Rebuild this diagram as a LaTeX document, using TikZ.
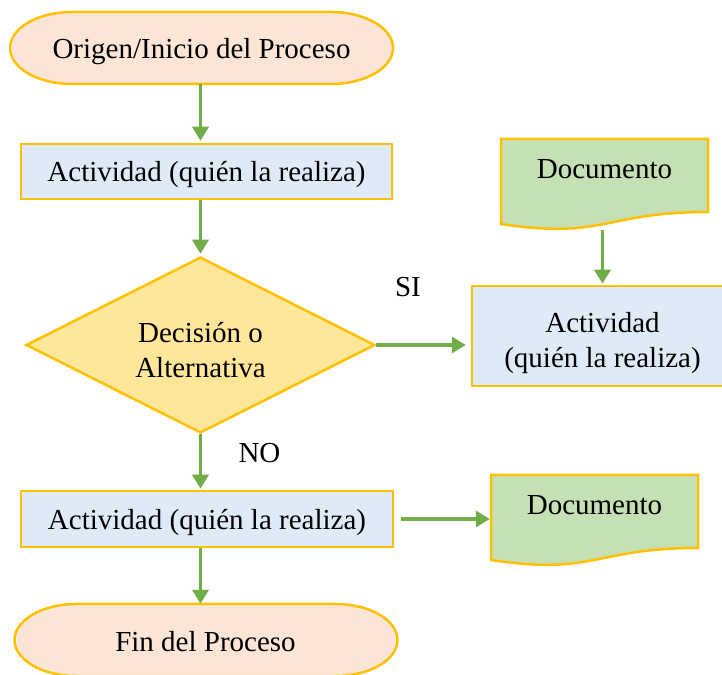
\documentclass[tikz,border=0pt]{standalone}
\usepackage{fontspec}
\setmainfont{Liberation Serif}
\usetikzlibrary{arrows.meta,shapes.geometric}
\definecolor{gold}{HTML}{FFC000}
\definecolor{peach}{HTML}{FBE5D6}
\definecolor{lblue}{HTML}{DEEBF7}
\definecolor{lgold}{HTML}{FFE699}
\definecolor{lgreen}{HTML}{C5E0B4}
\definecolor{agreen}{HTML}{70AD47}
\begin{document}
\begin{tikzpicture}[x=1pt,y=1pt,
  txt/.style={font=\fontsize{29}{35}\selectfont, text=black, align=center, text depth=0pt},
  shapeline/.style={draw=gold, line width=2.5pt},
  boxname/.style={rectangle, inner sep=0pt, draw=none},
  actbox/.style={rectangle, shapeline, fill=lblue, inner sep=0pt, txt},
  conn/.style={draw=agreen, line width=3.5pt, -{Triangle[width=16pt,length=14pt]}}
]
\useasboundingbox (0,0) rectangle (722,674);
\clip (0,0) rectangle (722,674);

% start terminator
\filldraw[shapeline, fill=peach] (72,662) -- (331,662)
  arc[start angle=90, end angle=-90, x radius=62, y radius=36] -- (72,590)
  arc[start angle=270, end angle=90, x radius=62, y radius=36] -- cycle;
\node[boxname, txt, minimum width=383, minimum height=72] (start) at (201.5,626) {Origen/Inicio del Proceso};

% activity 1
\node[actbox, minimum width=371, minimum height=55] (act1) at (206.5,502.5) {Actividad (quién la realiza)};

% decision
\node[diamond, shapeline, fill=lgold, inner sep=0pt, minimum width=349, minimum height=176, aspect=1.98] (dec) at (200.5,329) {};
\node[txt, inner sep=0pt] (dect) at (200.5,324) {Decisión o\\Alternativa};

% document 1
\filldraw[shapeline, fill=lgreen] (501,535) -- (708,535) -- (708,462)
  .. controls (604.5,462) and (604.5,434.3) .. (501,450) -- cycle;
\node[boxname, minimum width=207, minimum height=91] (doc1) at (604.5,489.5) {};
\node[txt, inner sep=0pt] (doc1t) at (604.5,505) {Documento};

% activity 2 (right)
\node[actbox, minimum width=261, minimum height=100] (act2) at (602.5,338) {};
\node[txt, inner sep=0pt] (act2t) at (602.5,334.5) {Actividad\\(quién la realiza)};

% activity 3
\node[actbox, minimum width=372, minimum height=56] (act3) at (207,155) {Actividad (quién la realiza)};

% document 2
\filldraw[shapeline, fill=lgreen] (491,199) -- (698,199) -- (698,126)
  .. controls (594.5,126) and (594.5,98.3) .. (491,114) -- cycle;
\node[boxname, minimum width=207, minimum height=91] (doc2) at (594.5,153.5) {};
\node[txt, inner sep=0pt] (doc2t) at (594.5,169) {Documento};

% end terminator
\filldraw[shapeline, fill=peach] (76.5,70) -- (335.5,70)
  arc[start angle=90, end angle=-90, x radius=62, y radius=36] -- (76.5,-2)
  arc[start angle=270, end angle=90, x radius=62, y radius=36] -- cycle;
\node[boxname, txt, minimum width=383, minimum height=72] (end) at (205.5,33) {Fin del Proceso};

% labels
\node[txt, inner sep=0pt] (si) at (408,387) {SI};
\node[txt, inner sep=0pt] (no) at (259.5,221) {NO};

% connectors
\draw[conn, shorten >=2pt] (dec.north |- start.south) -- (dec.north |- act1.north);
\draw[conn, shorten >=2pt] (dec.north |- act1.south) -- (dec.north);
\draw[conn, shorten >=5pt] (dec.east) -- (dec.east -| act2.west);
\draw[conn, shorten >=1pt] (act2.north |- doc1.south) -- (act2.north);
\draw[conn, shorten >=1pt] (dec.south) -- (dec.south |- act3.north);
\draw[conn, shorten <=7pt, shorten >=1pt] (act3.east) -- (act3.east -| doc2.west);
\draw[conn, shorten >=1pt] (dec.south |- act3.south) -- (dec.south |- end.north);
\end{tikzpicture}
\end{document}
